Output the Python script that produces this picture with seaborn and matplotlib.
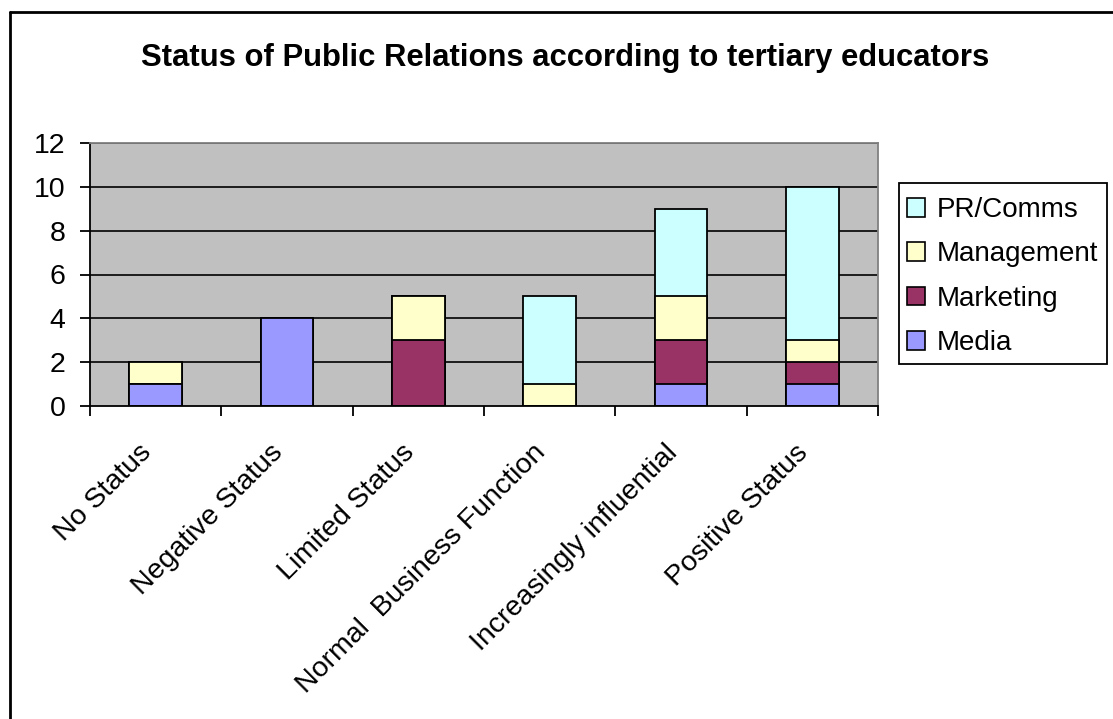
import matplotlib
matplotlib.use("Agg")
import matplotlib.pyplot as plt
import matplotlib.transforms as mtransforms
from matplotlib.patches import Patch, Rectangle
from matplotlib.lines import Line2D
import numpy as np
import pandas as pd
import seaborn as sns

categories = ["No Status", "Negative Status", "Limited Status",
              "Normal  Business Function", "Increasingly influential", "Positive Status"]
media = [1, 4, 0, 0, 1, 1]
marketing = [0, 0, 3, 0, 2, 1]
management = [1, 0, 2, 1, 2, 1]
pr_comms = [0, 0, 0, 4, 4, 7]
series_names = ["Media", "Marketing", "Management", "PR/Comms"]
colors = {"Media": "#9999FF", "Marketing": "#993366",
          "Management": "#FFFFCC", "PR/Comms": "#CCFFFF"}
yticks = [0, 2, 4, 6, 8, 10, 12]
title = "Status of Public Relations according to tertiary educators"

sns.set_style("white")
plt.rcParams["font.family"] = ["Liberation Sans", "DejaVu Sans"]
plt.rcParams["text.color"] = "black"
plt.rcParams["xtick.color"] = "black"
plt.rcParams["ytick.color"] = "black"
plt.rcParams["axes.labelcolor"] = "black"

FS = 20.5

fig = plt.figure(figsize=(11.13, 7.19), dpi=100)
ax = fig.add_axes([90/1113, 1-406/719, (878-90)/1113, (406-143)/719])
ax.set_facecolor("#C0C0C0")

vals = {"Media": media, "Marketing": marketing, "Management": management, "PR/Comms": pr_comms}
cum = np.zeros(len(categories))
cums = {}
for s in series_names:
    cum = cum + np.array(vals[s])
    cums[s] = cum.copy()

for y in yticks[1:]:
    ax.axhline(y, color="black", lw=1.2, zorder=0.5)

for s in reversed(series_names):
    df = pd.DataFrame({"cat": categories, "val": cums[s]})
    sns.barplot(data=df, x="cat", y="val", color=colors[s], saturation=1,
                width=0.4, edgecolor="black", linewidth=1.3, ax=ax, zorder=2)

ax.set_xlim(-0.5, len(categories)-0.5)
ax.set_ylim(0, 12)
ax.set_yticks(yticks)
ax.set_yticklabels([str(v) for v in yticks], fontsize=FS)
ax.set_xlabel("")
ax.set_ylabel("")
ax.set_xticks(range(len(categories)))
ax.set_xticklabels(categories, fontsize=FS, rotation=45, ha="right", va="top",
                   rotation_mode="anchor")
ax.set_xticks(np.arange(-0.5, len(categories), 1), minor=True)
ax.tick_params(axis="x", which="major", length=0, pad=14)
ax.tick_params(axis="x", which="minor", length=7, width=1.3, color="black", direction="out", bottom=True)
ax.tick_params(axis="y", which="major", length=7, width=1.3, color="black", direction="out", left=True, pad=10.5)
offset = mtransforms.ScaledTranslation(-17/100, -14/100, fig.dpi_scale_trans)
for lab in ax.get_xticklabels():
    lab.set_transform(lab.get_transform() + offset)

for side in ["left", "bottom"]:
    ax.spines[side].set_color("black")
    ax.spines[side].set_linewidth(1.3)
for side in ["top", "right"]:
    ax.spines[side].set_color("#808080")
    ax.spines[side].set_linewidth(1.3)

fig.text(0.508, 1-58/719, title, ha="center", va="center", fontsize=22.3, fontweight="bold")

handles = [Patch(facecolor=colors[s], edgecolor="black", linewidth=1.2, label=s)
           for s in reversed(series_names)]
leg = fig.legend(handles=handles, loc="center left", bbox_to_anchor=(899/1113, 1-276.5/719),
                 bbox_transform=fig.transFigure, fontsize=20, frameon=False,
                 handlelength=0.65, handleheight=0.65, handletextpad=0.4, labelspacing=0.66,
                 borderpad=0.3, borderaxespad=0)
fig.add_artist(Rectangle((899/1113, 1-364/719), (1107-899)/1113, (364-183)/719,
                         transform=fig.transFigure, fill=False, edgecolor="black", lw=1.3))

fig.add_artist(Line2D([10/1113, 10/1113], [0, 1-12/719], transform=fig.transFigure, color="black", lw=2))
fig.add_artist(Line2D([10/1113, 1], [1-12/719, 1-12/719], transform=fig.transFigure, color="black", lw=2))

fig.savefig("out.png", dpi=100)
